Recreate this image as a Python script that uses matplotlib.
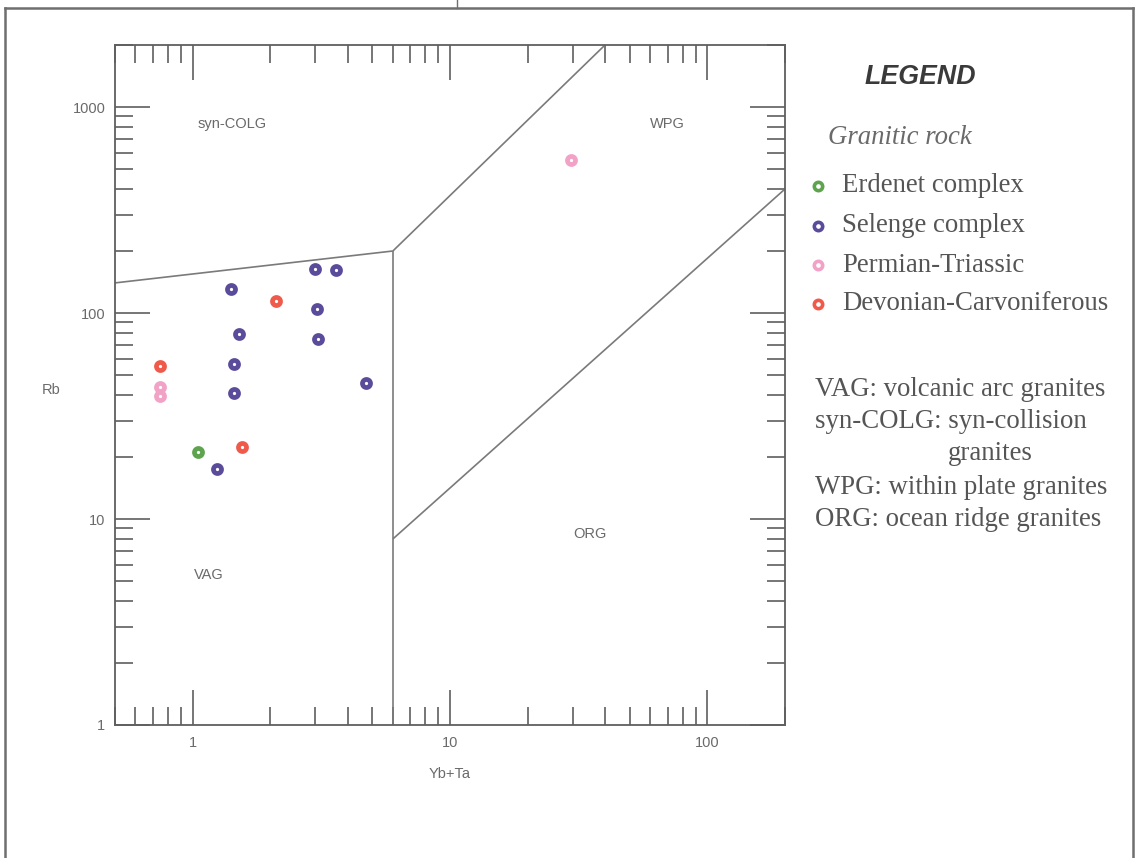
import matplotlib
matplotlib.use("Agg")
import matplotlib.pyplot as plt
from matplotlib.ticker import LogLocator, NullFormatter, FixedLocator, FixedFormatter

# ---------------- data ----------------
erdenet_x = [1.05]
erdenet_y = [21.2]
selenge_x = [2.99, 3.60, 1.41, 3.04, 1.51, 3.08, 1.45, 1.45, 4.70, 1.25]
selenge_y = [164, 161, 131, 104, 79, 75, 56.7, 41.0, 45.5, 17.4]
permian_x = [0.747, 0.747, 29.6]
permian_y = [43.8, 39.5, 552]
devonian_x = [2.11, 0.747, 1.56]
devonian_y = [115, 55.4, 22.4]

series_names = ["Erdenet complex", "Selenge complex", "Permian-Triassic",
                "Devonian-Carvoniferous"]
series_colors = ["#5ea44e", "#5a4b9b", "#f2a2c6", "#ef5a4b"]

# field boundaries (Pearce et al. 1984)
colg_vag_x = [0.5, 6]
colg_vag_y = [140, 200]
vag_org_x = [6, 6]
vag_org_y = [1, 200]
wpg_colg_x = [6, 40]
wpg_colg_y = [200, 2000]
wpg_org_x = [6, 200]
wpg_org_y = [8, 400]

field_names = ["syn-COLG", "WPG", "VAG", "ORG"]
field_x = [1.43, 70, 1.16, 35]
field_y = [830, 830, 5.35, 8.5]

x_ticks = [1, 10, 100]
y_ticks = [1, 10, 100, 1000]

definitions = ["VAG: volcanic arc granites",
               "syn-COLG: syn-collision",
               "granites",
               "WPG: within plate granites",
               "ORG: ocean ridge granites"]

# ---------------- figure ----------------
W, H = 1138, 858
fig = plt.figure(figsize=(W / 100, H / 100), dpi=100)
fig.patch.set_facecolor("white")

# overlay axes in pixel coordinates for frame and legend
ov = fig.add_axes([0, 0, 1, 1])
ov.set_xlim(0, W)
ov.set_ylim(H, 0)
ov.axis("off")
frame_c = "#6f6f6f"
ov.plot([5, 1133], [8, 8], color=frame_c, lw=1.8)
ov.plot([5, 5], [8, H], color=frame_c, lw=1.8)
ov.plot([1133, 1133], [8, H], color=frame_c, lw=1.8)
ov.plot([457, 457], [0, 8], color=frame_c, lw=1.0)

ax = fig.add_axes([115 / W, 1 - 725 / H, (785 - 115) / W, (725 - 45) / H])
ax.set_xscale("log")
ax.set_yscale("log")
ax.set_xlim(0.5, 200)
ax.set_ylim(1, 2000)
ax.patch.set_alpha(0)

line_c = "#7a7a7a"
for xs, ys in [(colg_vag_x, colg_vag_y), (vag_org_x, vag_org_y),
               (wpg_colg_x, wpg_colg_y), (wpg_org_x, wpg_org_y)]:
    ax.plot(xs, ys, color=line_c, lw=1.2, solid_capstyle="butt")

txt_c = "#6a6a6a"
sans = ["Liberation Sans", "DejaVu Sans"]
for name, fx, fy in zip(field_names, field_x, field_y):
    ax.text(fx, fy, name, ha="center", va="center", fontsize=10.5,
            color=txt_c, family=sans)

mstyle = dict(marker="o", markersize=5.8, markerfacecolor="white",
              markeredgewidth=3.4, linestyle="none")
leg_mstyle = dict(marker="o", markersize=6.0, markerfacecolor="white",
                  markeredgewidth=2.6, linestyle="none")
all_x = [erdenet_x, selenge_x, permian_x, devonian_x]
all_y = [erdenet_y, selenge_y, permian_y, devonian_y]
for xs, ys, c in zip(all_x, all_y, series_colors):
    ax.plot(xs, ys, markeredgecolor=c, zorder=3, **mstyle)

spine_c = "#5f5f5f"
for s in ax.spines.values():
    s.set_color(spine_c)
    s.set_linewidth(1.3)

ax.xaxis.set_major_locator(FixedLocator(x_ticks))
ax.xaxis.set_major_formatter(FixedFormatter([str(v) for v in x_ticks]))
ax.yaxis.set_major_locator(FixedLocator(y_ticks))
ax.yaxis.set_major_formatter(FixedFormatter([str(v) for v in y_ticks]))
ax.xaxis.set_minor_locator(LogLocator(base=10, subs=range(2, 10), numticks=20))
ax.yaxis.set_minor_locator(LogLocator(base=10, subs=range(2, 10), numticks=20))
ax.xaxis.set_minor_formatter(NullFormatter())
ax.yaxis.set_minor_formatter(NullFormatter())
ax.tick_params(which="both", direction="in", top=True, right=True,
               color=spine_c, width=1.2, labelcolor=txt_c, labelsize=10.5)
ax.tick_params(which="major", length=25)
ax.tick_params(which="minor", length=13)
ax.tick_params(axis="x", which="major", pad=8)
ax.tick_params(axis="y", which="major", pad=7)
for lab in ax.get_xticklabels() + ax.get_yticklabels():
    lab.set_family(sans)

ax.set_xlabel("Yb+Ta", fontsize=10.5, color=txt_c, family=sans, labelpad=12)
ax.set_ylabel("Rb", fontsize=10.5, color=txt_c, family=sans, rotation=0,
              va="center", ha="center")
ax.yaxis.set_label_coords(-0.095, 0.493)

# ---------------- legend ----------------
serif = ["Liberation Serif", "DejaVu Serif"]
leg_c = "#555555"
fs = 19.3
ov.text(920, 77, "LEGEND", ha="center", va="center", fontsize=fs,
        fontweight="bold", fontstyle="italic", color="#3a3a3a", family=sans)
ov.text(828, 138, "Granitic rock", ha="left", va="center", fontsize=fs,
        fontstyle="italic", color="#6a6a6a", family=serif)
row_y = [186, 226, 265, 304]
for name, c, ry in zip(series_names, series_colors, row_y):
    ov.plot([818], [ry], markeredgecolor=c, **leg_mstyle)
    ov.text(842, ry, name, ha="left", va="center", fontsize=fs,
            color=leg_c, family=serif)

def_y = [390, 422, 454, 487, 519]
def_x = [815, 815, 948, 815, 815]
for t, dx, dy in zip(definitions, def_x, def_y):
    ov.text(dx, dy, t, ha="left", va="center", fontsize=fs,
            color=leg_c, family=serif)

fig.savefig("out.png", dpi=100)
